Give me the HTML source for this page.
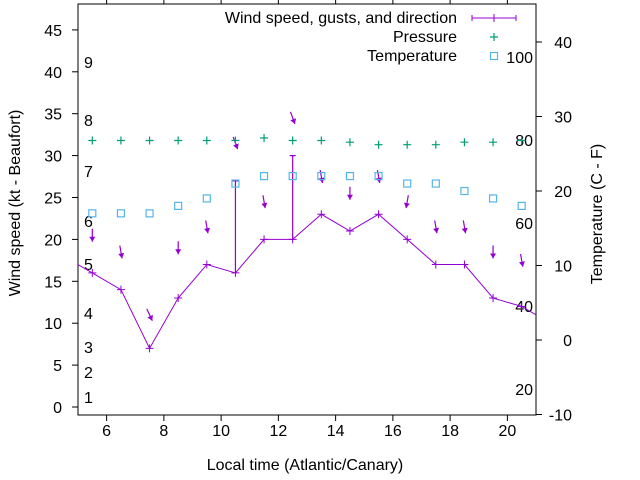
<!DOCTYPE html>
<html><head><meta charset="utf-8"><style>
body{margin:0;background:#fff}
svg{display:block;font-family:"Liberation Sans",sans-serif}
</style></head><body>
<svg id="c" width="640" height="480" viewBox="0 0 640 480"></svg>
<script>
const hours=[4.5,5.5,6.5,7.5,8.5,9.5,10.5,11.5,12.5,13.5,14.5,15.5,16.5,17.5,18.5,19.5,20.5,21.5];
const wind=[18,16,14,7,13,17,16,20,20,23,21,23,20,17,17,13,12,10];
const markHours=[5.5,6.5,7.5,8.5,9.5,10.5,11.5,12.5,13.5,14.5,15.5,16.5,17.5,18.5,19.5,20.5];
const markWind=[16,14,7,13,17,16,20,20,23,21,23,20,17,17,13,12];
const gustHours=[10.5,12.5];
const gustLow=[16,20];
const gustHigh=[27,30];
const arrowKt=[20.5,18.5,11,19,21.5,31.5,24.5,34.5,27.5,25.5,27.5,24.5,21.5,21.5,18.5,17.5];
const arrowDir=[0,-10,-25,0,-10,-20,-10,-20,-10,0,-10,10,-10,-10,0,-10];
const pressure=[31.8,31.8,31.8,31.8,31.8,31.8,32.1,31.8,31.8,31.6,31.3,31.3,31.3,31.6,31.6,31.8];
const temp=[17,17,17,18,19,21,22,22,22,22,22,21,21,20,19,18];
const xTicks=[6,8,10,12,14,16,18,20];
const yTicks=[0,5,10,15,20,25,30,35,40,45];
const y2Ticks=[-10,0,10,20,30,40];
const beaufort=[[1,397],[2,372],[3,347],[4,313],[5,264],[6,221],[7,171],[8,120],[9,62]];
const fahr=[[20,389],[40,306],[60,223],[80,140],[100,57]];

const L=78,R=536,T=4,B=415;
const X=v=>L+(v-5)*(R-L)/16;
const Y=v=>407-v*8.38;
const Y2=v=>340-v*7.45;
const s=document.getElementById('c');
const NS='http://www.w3.org/2000/svg';
function mk(tag,at,parent){const e=document.createElementNS(NS,tag);for(const k in at)e.setAttribute(k,at[k]);(parent||s).appendChild(e);return e;}

const defs=mk('defs',{});
const cp=mk('clipPath',{id:'clip'},defs);
mk('rect',{x:L,y:T,width:R-L,height:B-T},cp);

const fr=mk('rect',{x:L,y:T,width:R-L,height:B-T,fill:'none',stroke:'#000','stroke-width':1});



xTicks.forEach(v=>{
  const t=mk('line',{x1:X(v),x2:X(v),y1:B,y2:B+6,stroke:'#000'});
  
  
  mk('line',{x1:X(v),x2:X(v),y1:T,y2:T-5,stroke:'#000'});
  const tx=mk('text',{x:X(v),y:B+21,'font-size':16,'text-anchor':'middle'});
  tx.textContent=v;
  
  
});
yTicks.forEach(v=>{
  const t=mk('line',{x1:L-6,x2:L,y1:Y(v),y2:Y(v),stroke:'#000'});
  
  
  const tx=mk('text',{x:L-16,y:Y(v)+6,'font-size':16,'text-anchor':'end'});
  tx.textContent=v;
  
  
});
y2Ticks.forEach(v=>{
  const t=mk('line',{x1:R,x2:R+6,y1:Y2(v),y2:Y2(v),stroke:'#000'});
  
  
  const tx=mk('text',{x:R+36,y:Y2(v)+6,'font-size':16,'text-anchor':'end'});
  tx.textContent=v;
  
  
});
beaufort.forEach(b=>{
  const tx=mk('text',{x:84,y:b[1]+6,'font-size':16});
  tx.textContent=b[0];
  
  
});
fahr.forEach(f=>{
  const tx=mk('text',{x:533,y:f[1]+6,'font-size':16,'text-anchor':'end'});
  tx.textContent=f[0];
  
  
});

const g=mk('g',{'clip-path':'url(#clip)'});


const pl=mk('polyline',{points:hours.map((h,i)=>X(h)+','+Y(wind[i])).join(' '),fill:'none',stroke:'#9400d3','stroke-width':1},g);


markHours.forEach((h,i)=>{
  const x=X(h),y=Y(markWind[i]);
  const p=mk('path',{d:`M${x-4},${y}h8M${x},${y-4}v8`,stroke:'#9400d3','stroke-width':1},g);
  
  
});
gustHours.forEach((h,i)=>{
  const x=X(h);
  const p=mk('path',{d:`M${x},${Y(gustLow[i])}V${Y(gustHigh[i])}M${x-3},${Y(gustHigh[i])}h6`,stroke:'#9400d3','stroke-width':1.2},g);
  
  
});
markHours.forEach((h,i)=>{
  const x=X(h),y=Y(arrowKt[i]);
  const a=arrowDir[i]*Math.PI/180;
  const len=13,dx=Math.sin(a)*len,dy=Math.cos(a)*len;
  const x0=x+dx/2,y0=y-dy/2,x1=x-dx/2,y1=y+dy/2;
  const ux=-dx/len,uy=dy/len;
  const p=mk('g',{},g);
  
  
  mk('line',{x1:x0,y1:y0,x2:x1,y2:y1,stroke:'#9400d3','stroke-width':1.2},p);
  mk('polygon',{points:`${x1},${y1} ${x1-ux*5-uy*3},${y1-uy*5+ux*3} ${x1-ux*5+uy*3},${y1-uy*5-ux*3}`,fill:'#9400d3'},p);
});
markHours.forEach((h,i)=>{
  const x=X(h),y=Y(pressure[i]);
  const p=mk('path',{d:`M${x-4},${y}h8M${x},${y-4}v8`,stroke:'#009e73','stroke-width':1.2},g);
  
  
});
markHours.forEach((h,i)=>{
  const x=X(h),y=Y2(temp[i]);
  const p=mk('rect',{x:x-3.5,y:y-3.5,width:7,height:7,fill:'none',stroke:'#56b4e9','stroke-width':1.2},g);
  
  
});

const lg=mk('g',{'font-size':16,'text-anchor':'end'});


[['Wind speed, gusts, and direction',18],['Pressure',37],['Temperature',56]].forEach(e=>{
  const t=mk('text',{x:457,y:e[1]+5},lg);t.textContent=e[0];
  
  
});
mk('path',{d:'M472,18h44M472,15v6M516,15v6M494,14v8',stroke:'#9400d3','stroke-width':1},lg);
mk('path',{d:'M490,37h8M494,33v8',stroke:'#009e73','stroke-width':1.2},lg);
mk('rect',{x:490.5,y:52.5,width:7,height:7,fill:'none',stroke:'#56b4e9','stroke-width':1.2},lg);

const xt=mk('text',{x:305,y:470,'font-size':16,'text-anchor':'middle'});
xt.textContent='Local time (Atlantic/Canary)';


const yt=mk('text',{x:0,y:0,'font-size':16,'text-anchor':'middle',transform:'translate(20,203) rotate(-90)'});
yt.textContent='Wind speed (kt - Beaufort)';


const y2t=mk('text',{x:0,y:0,'font-size':16,'text-anchor':'middle',transform:'translate(602,214) rotate(-90)'});
y2t.textContent='Temperature (C - F)';


</script>
</body></html>
